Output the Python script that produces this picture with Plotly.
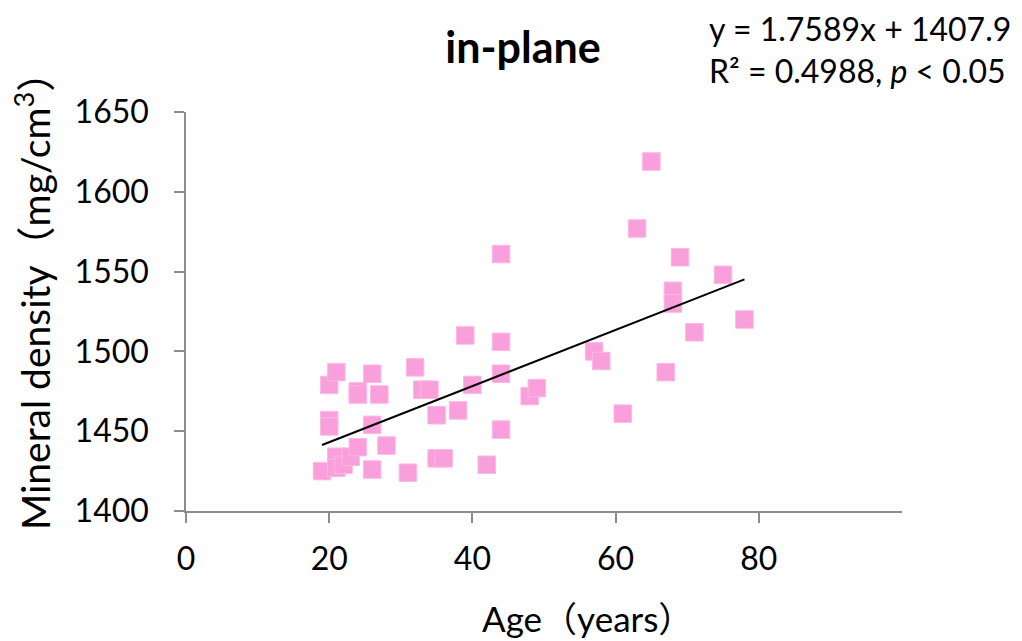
import plotly.graph_objects as go

# Age (years) and in-plane mineral density (mg/cm3) per specimen
age = [19, 20, 20, 20, 21, 21, 21, 22, 23, 24, 24, 24, 26, 26, 26, 27, 28,
       31, 32, 33, 34, 35, 35, 36, 38, 39, 40, 42, 44, 44, 44, 44, 48, 49,
       57, 58, 61, 63, 65, 67, 68, 68, 69, 71, 75, 78]
density = [1425, 1479, 1457, 1453, 1487, 1434, 1427, 1429, 1434, 1475, 1473, 1440,
           1486, 1454, 1426, 1473, 1441, 1424, 1490, 1476, 1476, 1460, 1433, 1433,
           1463, 1510, 1479, 1429, 1561, 1506, 1486, 1451, 1472, 1477, 1500, 1494,
           1461, 1577, 1619, 1487, 1538, 1530, 1559, 1512, 1548, 1520]

# Linear trend reported on the chart
slope = 1.7589
intercept = 1407.9
r_squared = 0.4988

x_ticks = [0, 20, 40, 60, 80]
y_ticks = [1400, 1450, 1500, 1550, 1600, 1650]

FONT = "Lato, 'Noto Sans CJK JP', sans-serif"
AXIS_GREY = "#8c8c8c"

W, H = 1022, 641
ML, MR, MT, MB = 186, 120, 112, 130
PW, PH = W - ML - MR, H - MT - MB


def px_to_paper(px, py):
    """Convert a page pixel position to paper coordinates of the plot area."""
    return (px - ML) / PW, (H - MB - py) / PH


x_fit = [min(age), max(age)]
y_fit = [slope * v + intercept for v in x_fit]

fig = go.Figure()
fig.add_trace(go.Scatter(
    x=age, y=density, mode="markers",
    marker=dict(symbol="square", size=17.5, color="#F99FDB",
                line=dict(color="#FBB8E4", width=1)),
    showlegend=False, hoverinfo="x+y",
))
fig.add_trace(go.Scatter(
    x=x_fit, y=y_fit, mode="lines",
    line=dict(color="black", width=2),
    showlegend=False, hoverinfo="skip",
))

xt_x, xt_y = px_to_paper(587, 618)
yt_x, yt_y = px_to_paper(32, 292)
eq_x, eq_y = px_to_paper(1013, 7)

fig.update_layout(
    width=W, height=H,
    margin=dict(l=ML, r=MR, t=MT, b=MB),
    paper_bgcolor="white", plot_bgcolor="white",
    font=dict(family=FONT, color="black"),
    title=dict(text="<b>in-plane</b>", x=523 / W, xanchor="center",
               y=1 - 48 / H, yanchor="middle",
               font=dict(family=FONT, size=43, color="black")),
    xaxis=dict(
        range=[0, 100], tickvals=x_ticks, ticktext=[str(v) for v in x_ticks],
        showgrid=False, zeroline=False,
        showline=True, linecolor=AXIS_GREY, linewidth=1.5,
        ticks="outside", ticklen=10, tickcolor=AXIS_GREY, tickwidth=1.5,
        ticklabelstandoff=9,
        tickfont=dict(family=FONT, size=32),
    ),
    yaxis=dict(
        range=[1400, 1650], tickvals=y_ticks, ticktext=[str(v) for v in y_ticks],
        showgrid=False, zeroline=False,
        showline=True, linecolor=AXIS_GREY, linewidth=1.5,
        ticks="outside", ticklen=10, tickcolor=AXIS_GREY, tickwidth=1.5,
        ticklabelstandoff=19,
        tickfont=dict(family=FONT, size=32),
    ),
    annotations=[
        dict(text="Age（years）", xref="paper", yref="paper",
             x=xt_x, y=xt_y, xanchor="center", yanchor="middle",
             showarrow=False, font=dict(family=FONT, size=35)),
        dict(text="Mineral density（mg/cm<sup>3</sup>）", xref="paper", yref="paper",
             x=yt_x, y=yt_y, xanchor="center", yanchor="middle", textangle=-90,
             showarrow=False, font=dict(family=FONT, size=39)),
        dict(text=(f"y = {slope}x + {intercept}<br>"
                   f"R² = {r_squared}, <i>p</i> < 0.05"),
             xref="paper", yref="paper", x=eq_x, y=eq_y,
             xanchor="right", yanchor="top", align="left", showarrow=False,
             font=dict(family=FONT, size=32, color="black")),
    ],
)

fig.write_html("out.html")
